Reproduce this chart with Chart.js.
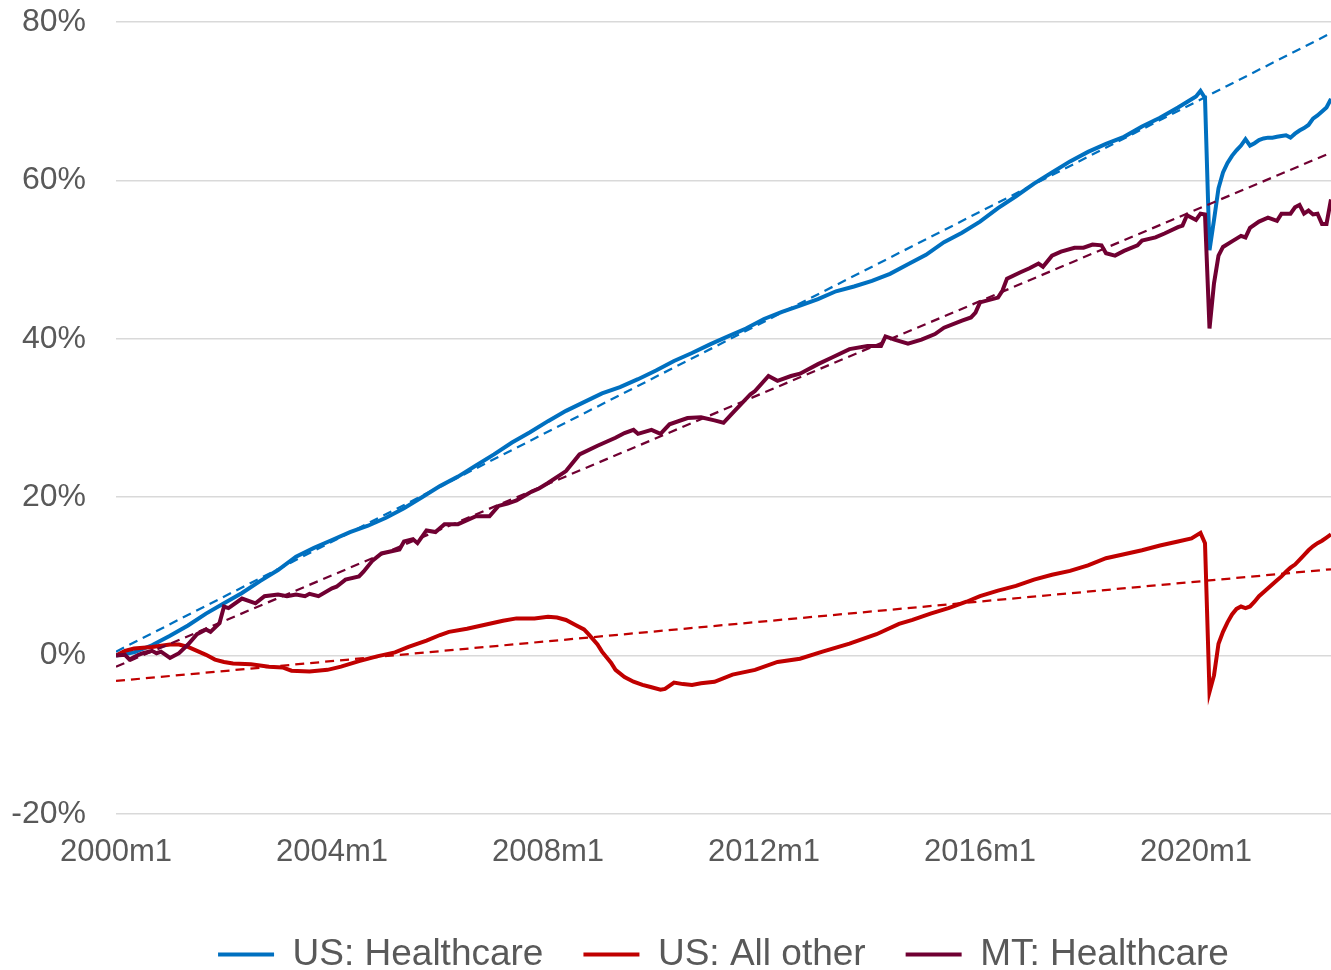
<!DOCTYPE html>
<html>
<head>
<meta charset="utf-8">
<script src="https://cdn.jsdelivr.net/npm/chart.js@4.4.1/dist/chart.umd.min.js"></script>
<style>
  body { margin: 0; background: #ffffff; }
  canvas { display: block; }
</style>
</head>
<body>
<canvas id="chart" width="1331" height="970"></canvas>
<script>
// months counted from 2000m1 = 0
var tickMonths = [0, 48, 96, 144, 192, 240];
var tickLabels = ['2000m1', '2004m1', '2008m1', '2012m1', '2016m1', '2020m1'];

var seriesNames = ['US: Healthcare', 'US: All other', 'MT: Healthcare'];
var seriesColors = ['#0070C0', '#C00000', '#700032'];

// US: Healthcare, % change since 2000m1
var usHealthMonths = [0, 4, 8, 12, 16, 20, 24, 28, 32, 36, 40, 44, 48, 52, 56, 60, 64, 68, 72, 76,
  80, 84, 88, 92, 96, 100, 104, 108, 112, 116, 120, 124, 128, 132, 136, 140, 144, 148, 152, 156,
  160, 164, 168, 172, 176, 180, 184, 188, 192, 196, 200, 204, 208, 212, 216, 220, 224, 228, 232, 236,
  238, 240, 241, 242, 243, 244, 245, 246, 247, 248, 249, 250, 251, 252, 253, 254, 255, 256, 257, 258,
  259, 260, 261, 262, 263, 264, 265, 266, 267, 268, 269, 270];
var usHealth = [0.0, 0.4, 1.3, 2.5, 3.8, 5.3, 6.6, 7.9, 9.4, 10.8, 12.5, 13.6, 14.6, 15.6, 16.4, 17.4, 18.6, 20.0, 21.4, 22.6,
  24.0, 25.4, 26.9, 28.2, 29.6, 30.9, 32.0, 33.1, 33.9, 34.9, 36.0, 37.2, 38.2, 39.3, 40.3, 41.3, 42.5, 43.4, 44.2, 45.0,
  46.0, 46.6, 47.3, 48.2, 49.4, 50.6, 52.2, 53.4, 54.8, 56.5, 58.0, 59.6, 61.0, 62.4, 63.6, 64.6, 65.5, 66.8, 67.9, 69.2,
  69.9, 70.6, 71.3, 70.4, 51.2, 55.0, 59.0, 61.0, 62.2, 63.1, 63.8, 64.4, 65.2, 64.4, 64.7, 65.1, 65.3, 65.4, 65.4, 65.5,
  65.6, 65.7, 65.4, 65.9, 66.3, 66.6, 67.0, 67.8, 68.2, 68.7, 69.2, 70.3];

// US: All other
var usOtherMonths = [0, 2, 4, 8, 12, 14, 16, 18, 20, 22, 24, 26, 30, 34, 37, 39, 43, 47, 50, 54,
  58, 62, 65, 69, 72, 74, 78, 82, 86, 89, 93, 96, 98, 100, 102, 104, 105, 107, 108, 110,
  111, 113, 115, 117, 119, 121, 122, 124, 126, 128, 130, 133, 137, 142, 147, 152, 157, 163, 169, 174,
  177, 181, 185, 189, 192, 196, 200, 204, 208, 212, 216, 220, 224, 228, 232, 236, 239, 241, 242, 243,
  244, 245, 246, 247, 248, 249, 250, 251, 252, 253, 254, 255, 256, 257, 258, 259, 260, 261, 262, 263,
  264, 265, 266, 267, 268, 269, 270];
var usOther = [0.0, 0.6, 0.9, 1.1, 1.4, 1.4, 1.1, 0.6, 0.1, -0.5, -0.8, -1.0, -1.1, -1.4, -1.5, -1.9, -2.0, -1.8, -1.4, -0.7,
  -0.1, 0.4, 1.1, 1.9, 2.6, 3.0, 3.4, 3.9, 4.4, 4.7, 4.7, 4.9, 4.8, 4.5, 3.9, 3.3, 2.7, 1.4, 0.5, -0.9,
  -1.8, -2.7, -3.3, -3.7, -4.0, -4.3, -4.2, -3.4, -3.6, -3.7, -3.5, -3.3, -2.4, -1.8, -0.8, -0.4, 0.5, 1.5, 2.7, 4.0,
  4.5, 5.3, 6.0, 6.8, 7.5, 8.2, 8.8, 9.6, 10.2, 10.7, 11.4, 12.3, 12.8, 13.3, 13.9, 14.4, 14.8, 15.5, 14.2, -4.6,
  -2.5, 1.5, 3.0, 4.2, 5.2, 5.9, 6.2, 6.0, 6.2, 6.8, 7.5, 8.0, 8.5, 9.0, 9.5, 10.0, 10.6, 11.1, 11.5, 12.1,
  12.7, 13.3, 13.8, 14.2, 14.5, 14.9, 15.3];

// MT: Healthcare
var mtHealthMonths = [0, 2, 3, 5, 6, 8, 9, 10, 12, 14, 16, 18, 20, 21, 23, 24, 25, 28, 31, 33,
  36, 38, 40, 42, 43, 45, 48, 49, 51, 54, 55, 57, 59, 63, 64, 66, 67, 69, 71, 73,
  76, 80, 83, 85, 87, 89, 92, 94, 96, 100, 103, 107, 111, 113, 115, 116, 119, 121, 123, 127,
  130, 133, 135, 137, 141, 142, 145, 147, 150, 152, 156, 159, 163, 167, 170, 171, 173, 176, 179, 182,
  184, 188, 190, 191, 192, 196, 197, 198, 201, 203, 205, 206, 208, 210, 213, 215, 217, 219, 220, 222,
  224, 227, 228, 231, 233, 236, 237, 238, 240, 241, 242, 243, 244, 245, 246, 248, 250, 251, 252, 254,
  256, 258, 259, 261, 262, 263, 264, 265, 266, 267, 268, 269, 270];
var mtHealth = [0.0, 0.1, -0.5, 0.1, 0.3, 0.6, 0.3, 0.5, -0.3, 0.3, 1.4, 2.7, 3.3, 3.0, 4.1, 6.2, 6.0, 7.2, 6.6, 7.5,
  7.7, 7.5, 7.7, 7.5, 7.8, 7.5, 8.5, 8.7, 9.6, 10.0, 10.6, 12.0, 12.9, 13.4, 14.4, 14.7, 14.2, 15.8, 15.6, 16.6,
  16.6, 17.6, 17.6, 18.9, 19.2, 19.6, 20.6, 21.1, 21.8, 23.3, 25.4, 26.5, 27.5, 28.1, 28.5, 28.0, 28.5, 28.0, 29.2, 30.0,
  30.1, 29.7, 29.4, 30.6, 33.0, 33.4, 35.3, 34.7, 35.3, 35.6, 36.8, 37.6, 38.7, 39.1, 39.1, 40.3, 39.9, 39.4, 39.9, 40.6,
  41.4, 42.3, 42.7, 43.3, 44.6, 45.2, 46.1, 47.6, 48.4, 48.9, 49.5, 49.1, 50.5, 51.0, 51.5, 51.5, 51.9, 51.8, 50.8, 50.5,
  51.1, 51.8, 52.4, 52.8, 53.3, 54.1, 54.3, 55.6, 55.0, 55.8, 55.7, 41.3, 47.0, 50.5, 51.6, 52.3, 53.0, 52.8, 54.0, 54.8,
  55.3, 54.9, 55.8, 55.8, 56.6, 56.9, 55.8, 56.2, 55.7, 55.8, 54.5, 54.5, 57.6];

// linear trend lines: value at 2000m1 and at the last month
var trendMonths = [0, 270];
var trendStart = [0.5, -3.2, -1.4];
var trendEnd = [78.6, 10.9, 63.5];

function toPoints(months, values) {
  return months.map(function(m, i){ return {x: m, y: values[i]}; });
}

var solidSets = [toPoints(usHealthMonths, usHealth), toPoints(usOtherMonths, usOther), toPoints(mtHealthMonths, mtHealth)];
var datasets = [];
var solidOrder = [3, 2, 1];
for (var i = 0; i < 3; i++) {
  datasets.push({
    label: seriesNames[i],
    data: solidSets[i],
    borderColor: seriesColors[i],
    backgroundColor: seriesColors[i],
    borderWidth: 4,
    pointRadius: 0,
    tension: 0,
    order: solidOrder[i]
  });
}
for (var j = 0; j < 3; j++) {
  datasets.push({
    label: seriesNames[j] + ' trend',
    data: toPoints(trendMonths, [trendStart[j], trendEnd[j]]),
    borderColor: seriesColors[j],
    borderWidth: 2.25,
    borderDash: [9, 6],
    pointRadius: 0,
    order: 0
  });
}

var fontFamily = '"Liberation Sans", Arial, sans-serif';
var textColor = '#595959';

var ctx = document.getElementById('chart');
var myChart = new Chart(ctx, {
  type: 'line',
  data: { datasets: datasets },
  options: {
    responsive: false,
    animation: false,
    devicePixelRatio: 1,
    layout: { padding: { top: 22, right: 0, bottom: -13, left: 0 } },
    plugins: {
      tooltip: { enabled: false },
      legend: {
        position: 'bottom',
        fullSize: false,   // centre the legend under the plot area, not the canvas
        labels: {
          filter: function(item){ return item.datasetIndex < 3; },
          sort: function(a, b){ return a.datasetIndex - b.datasetIndex; },
          usePointStyle: true,
          pointStyle: 'line',
          pointStyleWidth: 56,
          padding: 40,
          color: textColor,
          font: { family: fontFamily, size: 37 }
        }
      }
    },
    scales: {
      x: {
        type: 'linear',
        min: 0,
        max: 270,
        afterBuildTicks: function(axis){
          axis.ticks = tickMonths.map(function(v){ return {value: v}; });
        },
        afterFit: function(axis){ axis.height = 82; },
        grid: { display: false, drawTicks: false },
        border: { display: false },
        ticks: {
          padding: 20,
          maxRotation: 0,
          color: textColor,
          font: { family: fontFamily, size: 31 },
          callback: function(v){
            var k = tickMonths.indexOf(v);
            return k >= 0 ? tickLabels[k] : '';
          }
        }
      },
      y: {
        min: -20,
        max: 80,
        afterFit: function(axis){
          axis.width = 116;
          axis.paddingTop = 0;
          axis.paddingBottom = 0;
        },
        grid: { color: '#d9d9d9', lineWidth: 1.5, drawTicks: false },
        border: { display: false },
        ticks: {
          stepSize: 20,
          padding: 30,
          color: textColor,
          font: { family: fontFamily, size: 32 },
          callback: function(v){ return v + '%'; }
        }
      }
    }
  }
});
</script>
</body>
</html>
